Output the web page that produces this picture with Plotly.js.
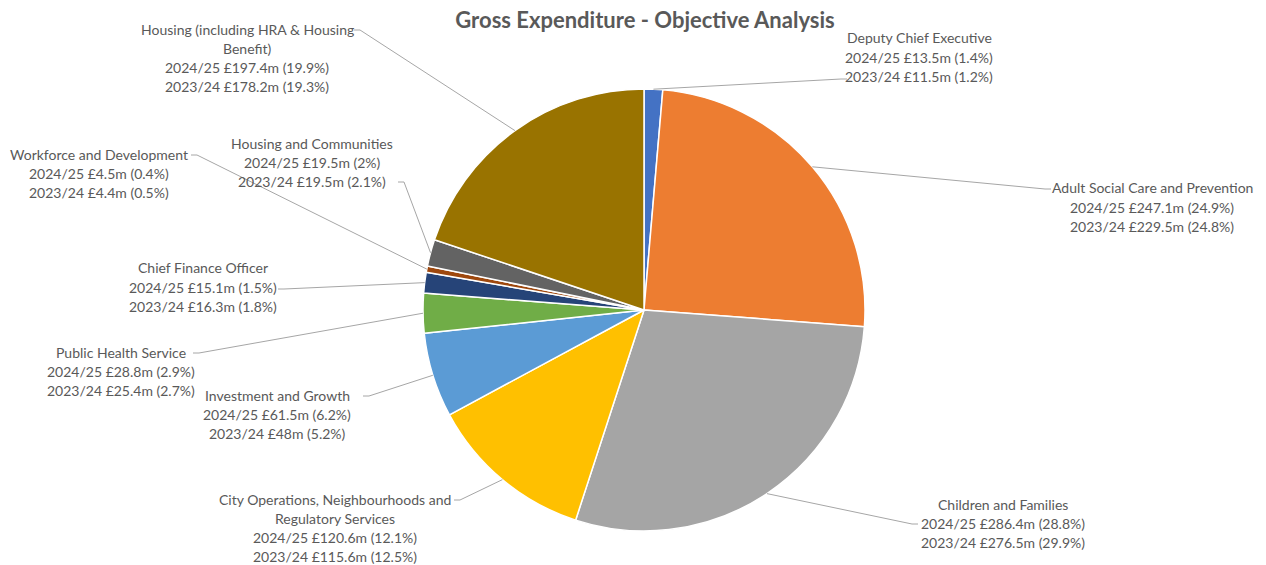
<!DOCTYPE html>
<html>
<head>
<meta charset="utf-8">
<script src="https://cdn.plot.ly/plotly-3.0.1.min.js"></script>
<style>html,body{margin:0;padding:0;background:#fff;}#chart{width:1266px;height:565px;}</style>
</head>
<body>
<div id="chart"></div>
<script>
// ---- data ----
const categories = ["Deputy Chief Executive", "Adult Social Care and Prevention", "Children and Families",
  "City Operations, Neighbourhoods and Regulatory Services", "Investment and Growth", "Public Health Service",
  "Chief Finance Officer", "Workforce and Development", "Housing and Communities",
  "Housing (including HRA & Housing Benefit)"];
const nameLines = [["Deputy Chief Executive"], ["Adult Social Care and Prevention"], ["Children and Families"],
  ["City Operations, Neighbourhoods and", "Regulatory Services"], ["Investment and Growth"], ["Public Health Service"],
  ["Chief Finance Officer"], ["Workforce and Development"], ["Housing and Communities"],
  ["Housing (including HRA & Housing", "Benefit)"]];
const values2425 = [13.5, 247.1, 286.4, 120.6, 61.5, 28.8, 15.1, 4.5, 19.5, 197.4];
const pct2425 = ["1.4%", "24.9%", "28.8%", "12.1%", "6.2%", "2.9%", "1.5%", "0.4%", "2%", "19.9%"];
const values2324 = [11.5, 229.5, 276.5, 115.6, 48, 25.4, 16.3, 4.4, 19.5, 178.2];
const pct2324 = ["1.2%", "24.8%", "29.9%", "12.5%", "5.2%", "2.7%", "1.8%", "0.5%", "2.1%", "19.3%"];
const colors = ["#4472C4", "#ED7D31", "#A5A5A5", "#FFC000", "#5B9BD5", "#70AD47", "#264478", "#9E480E", "#636363", "#997300"];

// ---- layout geometry (pixels) ----
const W = 1266, H = 565;
const cx = 644, cy = 310, R = 221;
// label centre x, first line y, attach point [x,y], stub direction (+1 right, -1 left)
const labelPos = [
  {x: 919, y: 38, attach: [847, 79], dir: -1},
  {x: 1152, y: 188, attach: [1051, 189], dir: -1},
  {x: 1003, y: 504, attach: [918, 524], dir: -1},
  {x: 335, y: 499, attach: [454, 500], dir: 1},
  {x: 277, y: 395, attach: [363, 396], dir: 1},
  {x: 121, y: 352, attach: [193, 353], dir: 1},
  {x: 203, y: 268, attach: [278, 289], dir: 1},
  {x: 99, y: 154, attach: [191, 155], dir: 1},
  {x: 312, y: 143, attach: [398, 182], dir: 1},
  {x: 247, y: 29, attach: [354, 30], dir: 1}
];
const lineGap = 19.2;
const px = x => x / W, py = y => 1 - y / H;

const total = values2425.reduce((a, b) => a + b, 0);
const annotations = [];
const shapes = [];
let cum = 0;
values2425.forEach((v, i) => {
  const mid = (cum + v / 2) / total * 2 * Math.PI;
  cum += v;
  const rx = cx + R * Math.sin(mid), ry = cy - R * Math.cos(mid);
  const lines = nameLines[i].concat([
    "2024/25 £" + values2425[i] + "m (" + pct2425[i] + ")",
    "2023/24 £" + values2324[i] + "m (" + pct2324[i] + ")"
  ]);
  const p = labelPos[i];
  lines.forEach((t, k) => {
    annotations.push({
      text: t, xref: "paper", yref: "paper", x: px(p.x), y: py(p.y + k * lineGap),
      xanchor: "center", yanchor: "middle", showarrow: false,
      font: {family: "Lato, 'Open Sans', sans-serif", size: 14, color: "#595959"}
    });
  });
  const [ax, ay] = p.attach;
  const sx = ax + p.dir * 6;
  shapes.push({
    type: "path", xref: "paper", yref: "paper",
    path: `M ${px(ax)},${py(ay)} L ${px(sx)},${py(ay)} L ${px(rx)},${py(ry)}`,
    line: {color: "#A6A6A6", width: 1}
  });
});

const trace = {
  type: "pie",
  labels: categories,
  values: values2425,
  sort: false,
  direction: "clockwise",
  rotation: 0,
  marker: {colors: colors, line: {color: "#ffffff", width: 1.5}},
  textinfo: "none",
  hoverinfo: "label+value+percent",
  showlegend: false,
  domain: {x: [px(cx - R), px(cx + R)], y: [py(cy + R), py(cy - R)]}
};

const layout = {
  width: W, height: H,
  margin: {l: 0, r: 0, t: 0, b: 0},
  paper_bgcolor: "#ffffff",
  title: {
    text: "<b>Gross Expenditure - Objective Analysis</b>",
    x: 645 / W, xanchor: "center", y: 1 - 20 / H, yanchor: "middle",
    font: {family: "Lato, 'Open Sans', sans-serif", size: 22, color: "#595959"}
  },
  annotations: annotations,
  shapes: shapes
};

Plotly.newPlot("chart", [trace], layout, {displayModeBar: false, staticPlot: true});
</script>
</body>
</html>
